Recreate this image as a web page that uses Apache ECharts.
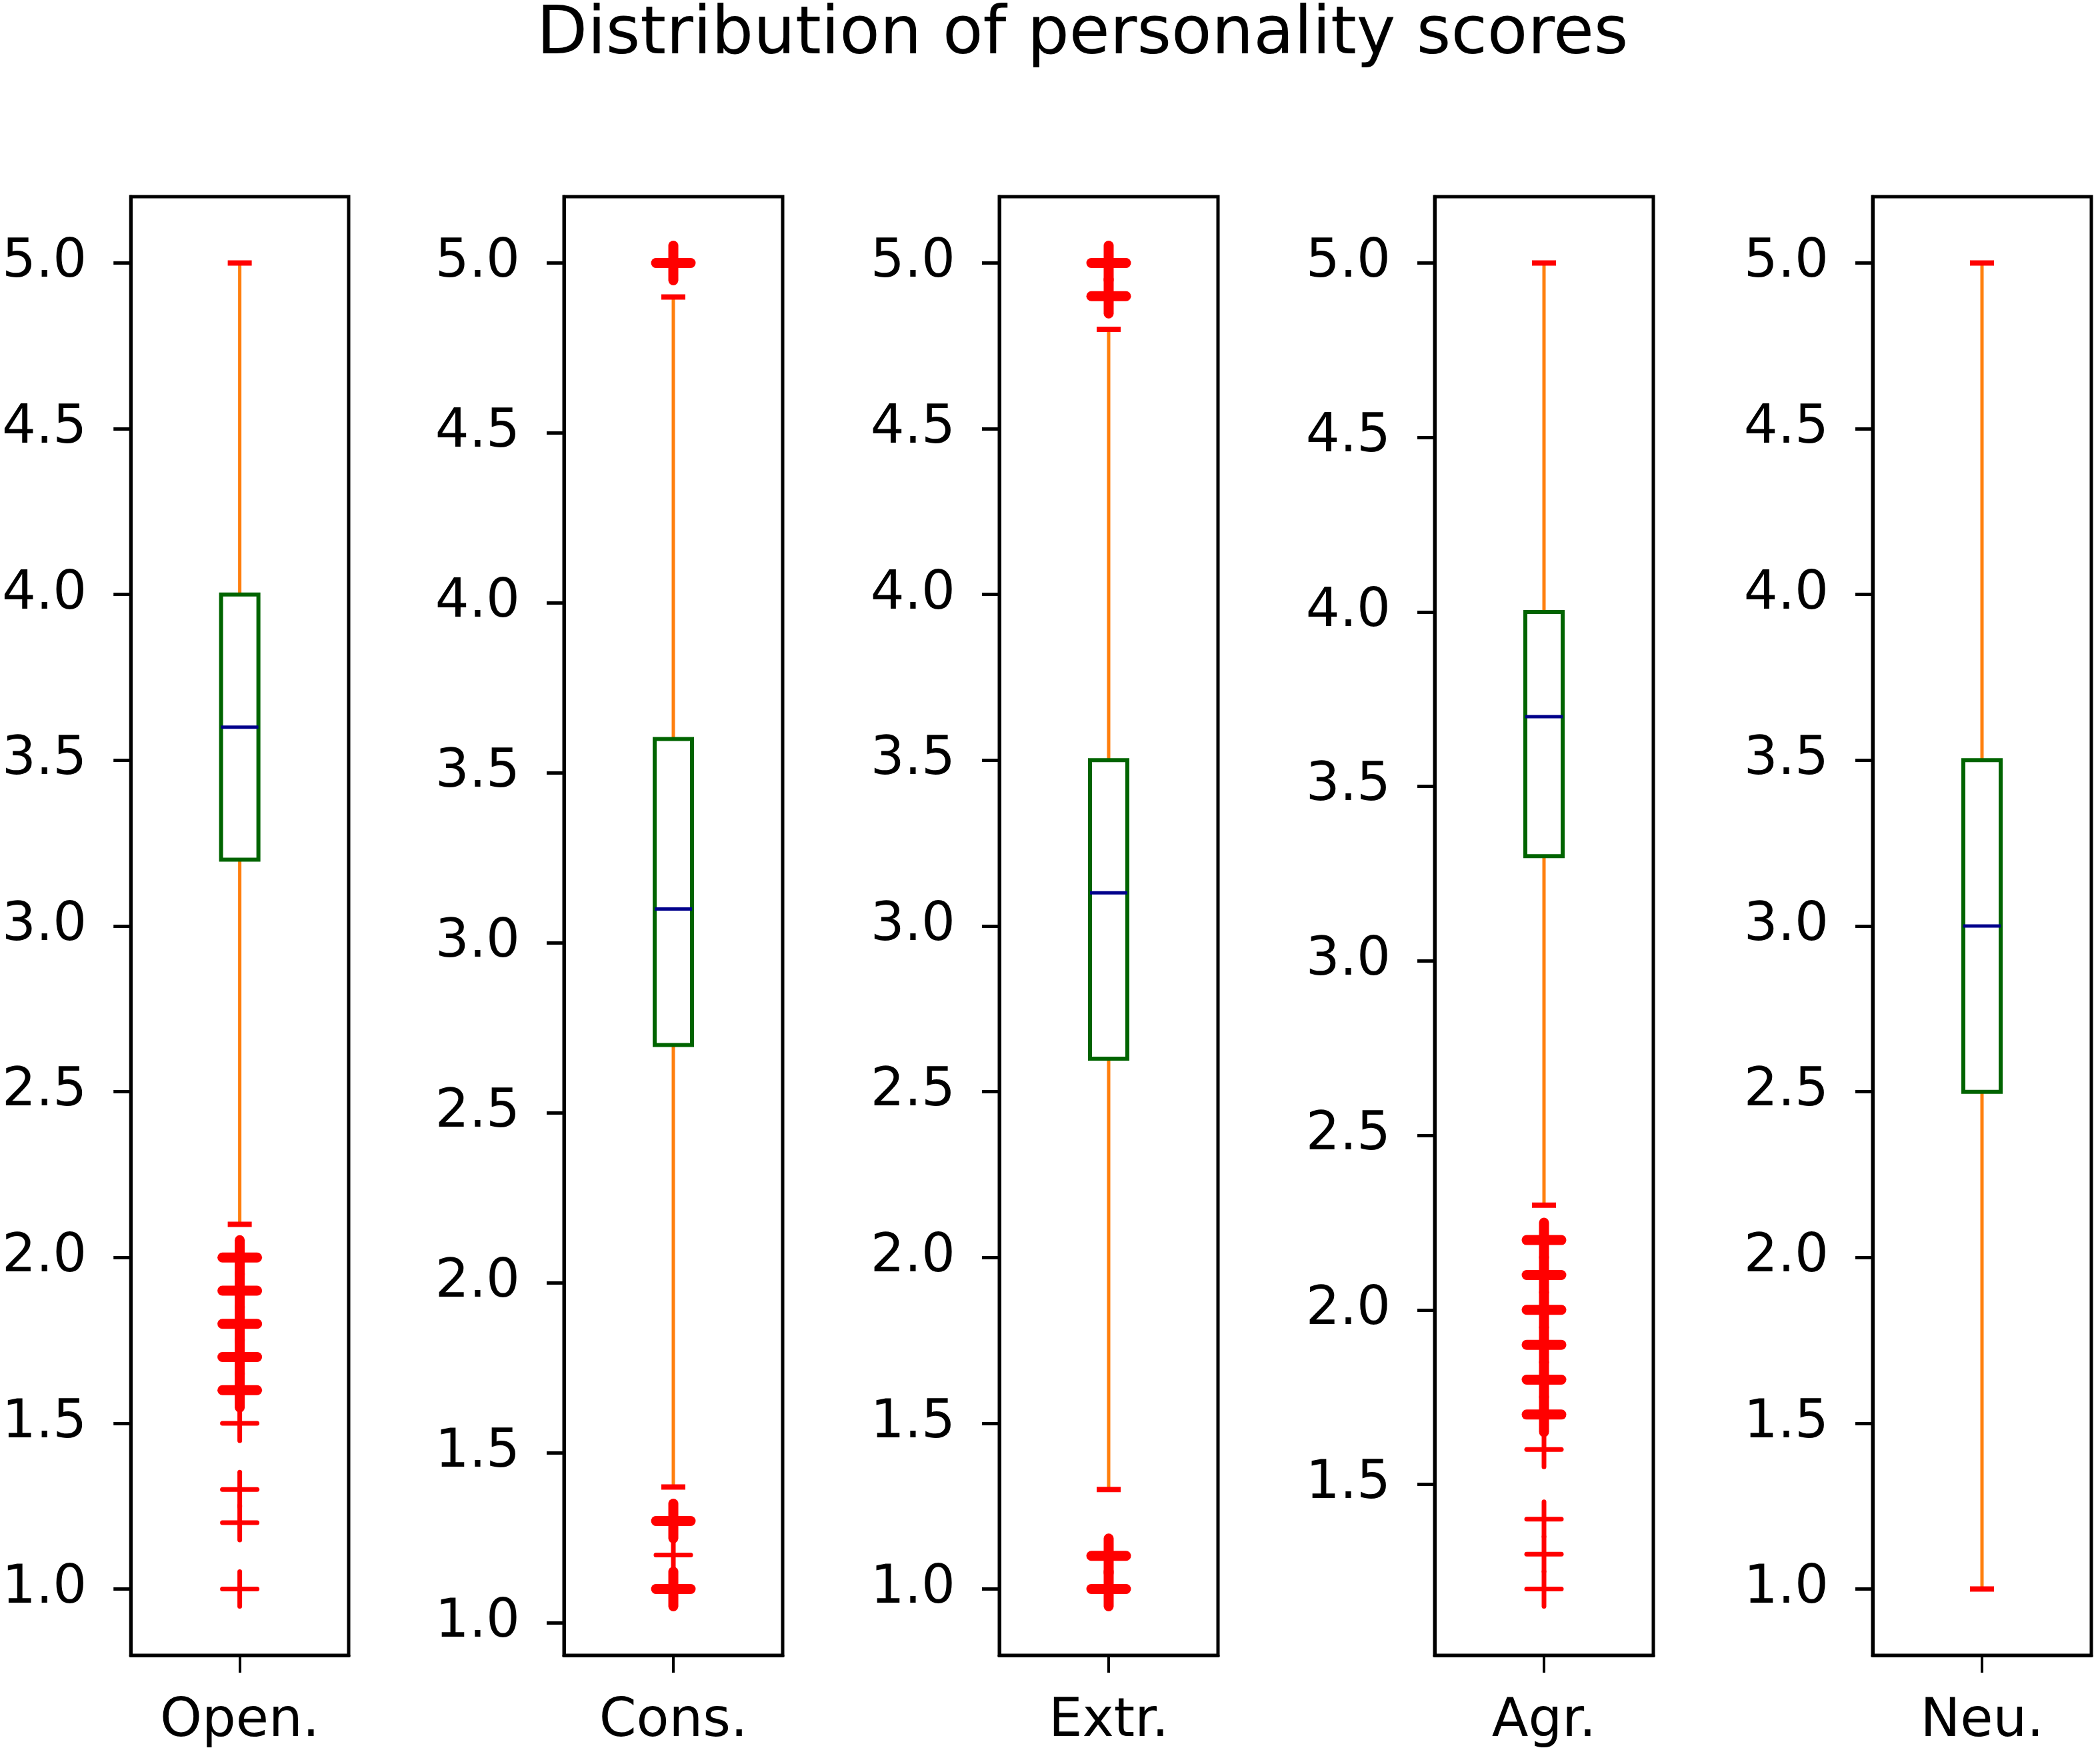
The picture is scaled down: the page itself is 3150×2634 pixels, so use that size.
<!DOCTYPE html>
<html>
<head>
<meta charset="utf-8">
<script src="https://cdn.jsdelivr.net/npm/echarts@6/dist/echarts.min.js"></script>
<style>
  html, body { margin: 0; padding: 0; background: #fff; }
  #chart { width: 3150px; height: 2634px; }
</style>
</head>
<body>
<div id="chart"></div>
<script>
// trait names under each panel
var traits = ["Open.", "Cons.", "Extr.", "Agr.", "Neu."];

// box stats per trait: [lower whisker, Q1, median, Q3, upper whisker]
var openStats = [2.1, 3.2, 3.6, 4.0, 5.0];
var consStats = [1.4, 2.7, 3.1, 3.6, 4.9];
var extrStats = [1.3, 2.6, 3.1, 3.5, 4.8];
var agrStats  = [2.3, 3.3, 3.7, 4.0, 5.0];
var neuStats  = [1.0, 2.5, 3.0, 3.5, 5.0];

// single outliers and outliers that occur many times (drawn heavier)
var openOutliers = [1.5, 1.3, 1.2, 1.0];
var openFrequent = [2.0, 1.9, 1.8, 1.7, 1.6];
var consOutliers = [1.2];
var consFrequent = [5.0, 1.3, 1.1];
var extrOutliers = [];
var extrFrequent = [5.0, 4.9, 1.1, 1.0];
var agrOutliers  = [1.6, 1.4, 1.3, 1.2];
var agrFrequent  = [2.2, 2.1, 2.0, 1.9, 1.8, 1.7];
var neuOutliers  = [];
var neuFrequent  = [];

// y tick labels per panel
var ticksFull = [1.0, 1.5, 2.0, 2.5, 3.0, 3.5, 4.0, 4.5, 5.0];
var ticksAgr  = [1.5, 2.0, 2.5, 3.0, 3.5, 4.0, 4.5, 5.0];

var stats = [openStats, consStats, extrStats, agrStats, neuStats];
var outliers = [openOutliers, consOutliers, extrOutliers, agrOutliers, neuOutliers];
var frequent = [openFrequent, consFrequent, extrFrequent, agrFrequent, neuFrequent];
var ticks = [ticksFull, ticksFull, ticksFull, ticksAgr, ticksFull];

var chart = echarts.init(document.getElementById("chart"));

var FONT = "DejaVu Sans";
var panelLeft = [195, 846, 1499, 2152, 2809];
var panelWidth = 328;
var panelTop = 295;
var panelHeight = 2188;

var BOX_HALF = 28, CAP_HALF = 18, PLUS_HALF = 26;

function renderBox(params, api) {
  var x = api.value(0);
  var lo = api.coord([x, api.value(1)]);
  var q1 = api.coord([x, api.value(2)]);
  var md = api.coord([x, api.value(3)]);
  var q3 = api.coord([x, api.value(4)]);
  var hi = api.coord([x, api.value(5)]);
  var cx = lo[0];
  var orange = { stroke: "#ff7f0e", lineWidth: 5 };
  var red = { stroke: "#ff0000", lineWidth: 8 };
  return {
    type: "group",
    children: [
      { type: "line", shape: { x1: cx, y1: lo[1], x2: cx, y2: q1[1] }, style: orange },
      { type: "line", shape: { x1: cx, y1: q3[1], x2: cx, y2: hi[1] }, style: orange },
      { type: "rect", shape: { x: cx - BOX_HALF, y: q3[1], width: BOX_HALF * 2, height: q1[1] - q3[1] },
        style: { fill: "none", stroke: "#006400", lineWidth: 6 } },
      { type: "line", shape: { x1: cx - BOX_HALF, y1: md[1], x2: cx + BOX_HALF, y2: md[1] },
        style: { stroke: "#00008b", lineWidth: 5 } },
      { type: "line", shape: { x1: cx - CAP_HALF, y1: lo[1], x2: cx + CAP_HALF, y2: lo[1] }, style: red },
      { type: "line", shape: { x1: cx - CAP_HALF, y1: hi[1], x2: cx + CAP_HALF, y2: hi[1] }, style: red }
    ]
  };
}

function plusRenderer(width) {
  return function (params, api) {
    var p = api.coord([api.value(0), api.value(1)]);
    var st = { stroke: "#ff0000", lineWidth: width, lineCap: "round" };
    return {
      type: "group",
      children: [
        { type: "line", shape: { x1: p[0] - PLUS_HALF, y1: p[1], x2: p[0] + PLUS_HALF, y2: p[1] }, style: st },
        { type: "line", shape: { x1: p[0], y1: p[1] - PLUS_HALF, x2: p[0], y2: p[1] + PLUS_HALF }, style: st }
      ]
    };
  };
}

var grids = [], xAxes = [], yAxes = [], series = [];

traits.forEach(function (name, i) {
  grids.push({
    left: panelLeft[i], top: panelTop, width: panelWidth, height: panelHeight,
    show: true, borderColor: "#000", borderWidth: 5
  });
  xAxes.push({
    type: "category", gridIndex: i, data: [name],
    axisLine: { show: true, lineStyle: { color: "#000", width: 5 } },
    axisTick: { show: true, alignWithLabel: true, length: 26, lineStyle: { color: "#000", width: 4 } },
    axisLabel: { fontSize: 80, color: "#000", fontFamily: FONT, margin: 60 },
    splitLine: { show: false }
  });
  yAxes.push({
    type: "value", gridIndex: i,
    min: function (v) { return v.min - 0.05 * (v.max - v.min); },
    max: function (v) { return v.max + 0.05 * (v.max - v.min); },
    axisLine: { show: true, lineStyle: { color: "#000", width: 5 } },
    axisTick: { show: true, length: 26, customValues: ticks[i], lineStyle: { color: "#000", width: 5 } },
    axisLabel: {
      customValues: ticks[i], fontSize: 80, color: "#000", fontFamily: FONT, margin: 66,
      formatter: function (v) { return Number(v).toFixed(1); }
    },
    splitLine: { show: false }
  });
  series.push({
    type: "custom", xAxisIndex: i, yAxisIndex: i,
    renderItem: renderBox,
    encode: { x: 0, y: [1, 2, 3, 4, 5] },
    data: [[0].concat(stats[i])],
    z: 2
  });
  series.push({
    type: "custom", xAxisIndex: i, yAxisIndex: i,
    renderItem: plusRenderer(7),
    encode: { x: 0, y: 1 },
    data: outliers[i].map(function (v) { return [0, v]; }),
    z: 3
  });
  series.push({
    type: "custom", xAxisIndex: i, yAxisIndex: i,
    renderItem: plusRenderer(15),
    encode: { x: 0, y: 1 },
    data: frequent[i].map(function (v) { return [0, v]; }),
    z: 3
  });
});

var option = {
  backgroundColor: "#fff",
  animation: false,
  title: {
    text: "Distribution of personality scores",
    left: 800, top: 0,
    textStyle: { fontSize: 99, fontWeight: "normal", color: "#000", fontFamily: FONT }
  },
  grid: grids,
  xAxis: xAxes,
  yAxis: yAxes,
  series: series
};

chart.setOption(option);
window.addEventListener("resize", function () { chart.resize(); });
</script>
</body>
</html>
